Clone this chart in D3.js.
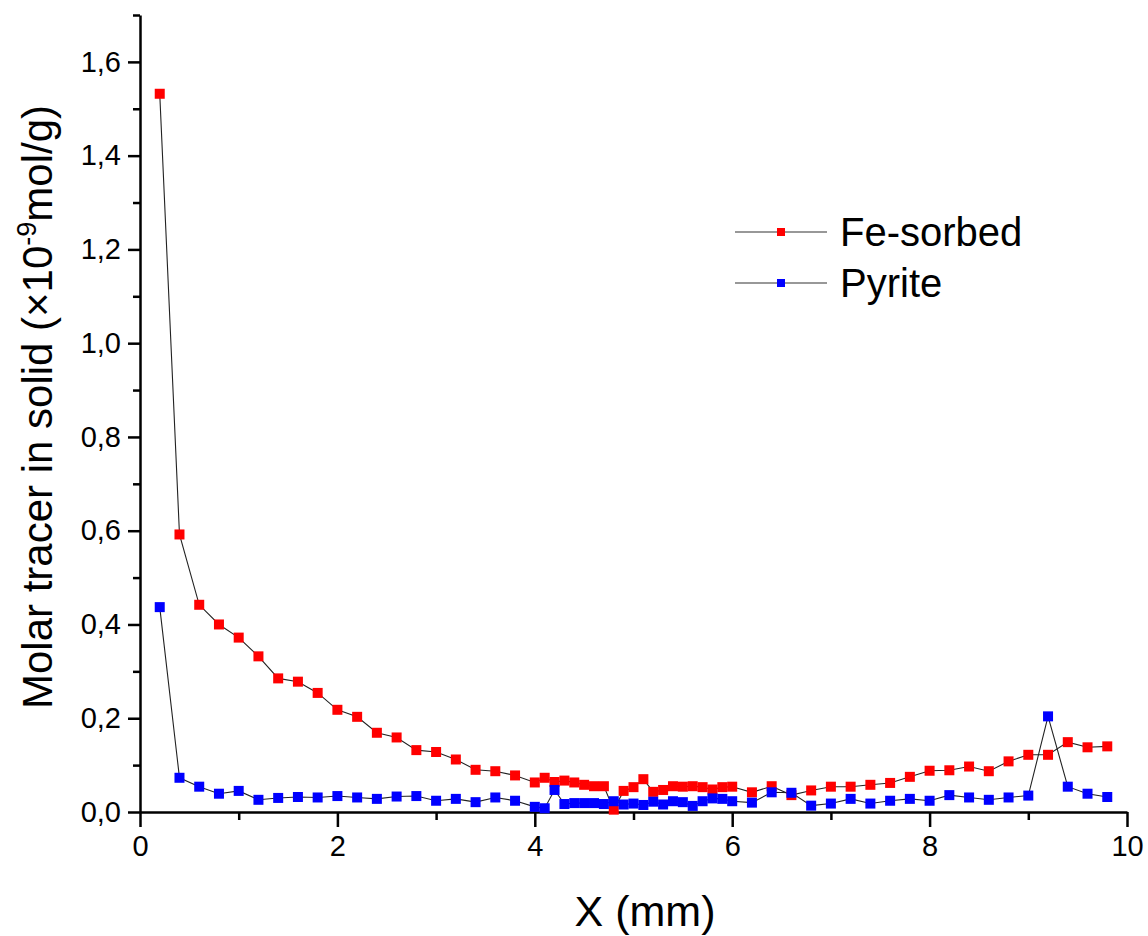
<!DOCTYPE html>
<html>
<head>
<meta charset="utf-8">
<script src="https://cdn.jsdelivr.net/npm/d3@7"></script>
<style>
  body { margin: 0; background: #fff; }
  text { font-family: "Liberation Sans", Arial, sans-serif; fill: #000; }
</style>
</head>
<body>
<script>
// x positions (mm)
var xFe = [0.2,0.4,0.6,0.8,1.0,1.2,1.4,1.6,1.8,2.0,2.2,2.4,2.6,2.8,3.0,3.2,3.4,3.6,3.8,4.0,
  4.1,4.2,4.3,4.4,4.5,4.6,4.7,4.8,4.9,5.0,5.1,5.2,5.3,5.4,5.5,5.6,5.7,5.8,5.9,6.0,
  6.2,6.4,6.6,6.8,7.0,7.2,7.4,7.6,7.8,8.0,8.2,8.4,8.6,8.8,9.0,9.2,9.4,9.6,9.8];
var feSorbed = [1.532,0.592,0.442,0.400,0.372,0.332,0.285,0.278,0.254,0.218,0.203,0.169,0.159,0.132,0.128,0.112,0.090,0.087,0.078,0.063,
  0.073,0.064,0.067,0.063,0.058,0.055,0.055,0.005,0.045,0.053,0.070,0.043,0.047,0.055,0.054,0.055,0.053,0.048,0.053,0.054,
  0.042,0.055,0.036,0.046,0.054,0.054,0.058,0.062,0.075,0.088,0.089,0.097,0.087,0.108,0.122,0.122,0.149,0.138,0.140];
var pyrite = [0.437,0.073,0.054,0.039,0.045,0.026,0.030,0.032,0.031,0.034,0.031,0.028,0.033,0.034,0.024,0.028,0.021,0.031,0.024,0.011,
  0.008,0.047,0.017,0.019,0.019,0.019,0.017,0.023,0.016,0.018,0.015,0.022,0.016,0.023,0.021,0.013,0.023,0.029,0.028,0.023,
  0.020,0.042,0.041,0.0135,0.018,0.028,0.018,0.024,0.028,0.024,0.036,0.031,0.026,0.031,0.035,0.204,0.054,0.039,0.032];

var seriesNames = ["Fe-sorbed", "Pyrite"];
var seriesColors = ["#ff0000", "#0000ff"];
var xTicks = [0,2,4,6,8,10];
var yTicks = [0,0.2,0.4,0.6,0.8,1.0,1.2,1.4,1.6];

var W = 1148, H = 936;
var svg = d3.select("body").append("svg").attr("width", W).attr("height", H);

var x = d3.scaleLinear().domain([0, 10]).range([140, 1127]);
var y = d3.scaleLinear().domain([0, 1.7]).range([812, 15]);

var comma = function(d) { return d3.format(".1f")(d).replace(".", ","); };

// minor ticks first
svg.append("g").attr("transform", "translate(0,812)")
  .call(d3.axisBottom(x).tickValues(d3.range(1, 10, 2)).tickSize(8).tickFormat(""))
  .call(g => g.select(".domain").remove())
  .selectAll("line").attr("stroke-width", 2.5);
svg.append("g").attr("transform", "translate(140,0)")
  .call(d3.axisLeft(y).tickValues(d3.range(0.1, 1.75, 0.2)).tickSize(7).tickFormat(""))
  .call(g => g.select(".domain").remove())
  .selectAll("line").attr("stroke-width", 2.5);

var xAxis = svg.append("g").attr("transform", "translate(0,812)")
  .call(d3.axisBottom(x).tickValues(xTicks).tickSize(15).tickSizeOuter(0).tickPadding(7).tickFormat(d3.format("d")));
xAxis.select(".domain").attr("stroke-width", 2.5);
xAxis.selectAll(".tick line").attr("stroke-width", 2.5);
xAxis.selectAll(".tick text").attr("font-size", 29).attr("dy", "0.75em");

var yAxis = svg.append("g").attr("transform", "translate(140,0)")
  .call(d3.axisLeft(y).tickValues(yTicks).tickSize(12).tickSizeOuter(0).tickPadding(7).tickFormat(comma));
yAxis.select(".domain").attr("stroke-width", 2.5);
yAxis.selectAll(".tick line").attr("stroke-width", 2.5);
yAxis.selectAll(".tick text").attr("font-size", 29);

// axis titles
svg.append("text").attr("x", 645).attr("y", 926).attr("text-anchor", "middle")
  .attr("font-size", 43).text("X (mm)");

var yt = svg.append("text").attr("transform", "translate(52,407) rotate(-90)")
  .attr("text-anchor", "middle").attr("font-size", 42);
yt.append("tspan").text("Molar tracer in solid (\u00d710");
yt.append("tspan").attr("dy", -16).attr("font-size", 27).text("-9");
yt.append("tspan").attr("dy", 16).text("mol/g)");

// series
var allSeries = [feSorbed, pyrite];
var line = d3.line().x(d => x(d[0])).y(d => y(d[1]));

allSeries.forEach(function(vals, k) {
  var pts = xFe.map((v, i) => [v, vals[i]]);
  svg.append("path").datum(pts)
    .attr("fill", "none").attr("stroke", "#222").attr("stroke-width", 1.1)
    .attr("d", line);
});
allSeries.forEach(function(vals, k) {
  var pts = xFe.map((v, i) => [v, vals[i]]);
  svg.append("g").selectAll("rect").data(pts).enter().append("rect")
    .attr("x", d => x(d[0]) - 5).attr("y", d => y(d[1]) - 5)
    .attr("width", 10).attr("height", 10)
    .attr("fill", seriesColors[k]);
});

// legend
var leg = svg.append("g");
seriesNames.forEach(function(name, k) {
  var ly = 232 + k * 51;
  leg.append("line").attr("x1", 735).attr("x2", 827).attr("y1", ly).attr("y2", ly)
    .attr("stroke", "#333").attr("stroke-width", 1.1);
  leg.append("rect").attr("x", 777).attr("y", ly - 4).attr("width", 8).attr("height", 8)
    .attr("fill", seriesColors[k]);
  leg.append("text").attr("x", 840).attr("y", ly + 14).attr("font-size", 40).text(name);
});
</script>
</body>
</html>
